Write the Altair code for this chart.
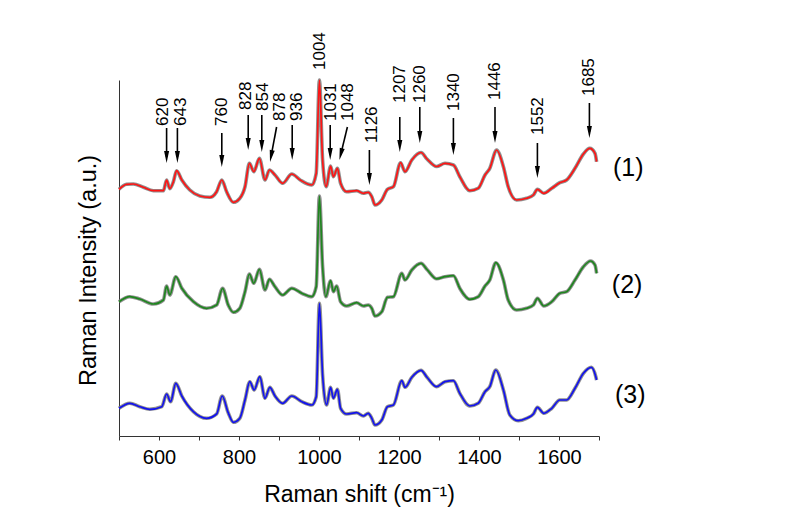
import math
import altair as alt
import pandas as pd

FONT = "Liberation Sans, Arial, Helvetica, sans-serif"

# ---- spectra (Raman shift, intensity in arbitrary units incl. stacking offset) ----
shift_1 = [500, 519, 536, 561, 586, 611, 619, 627, 636, 644, 657, 677, 702, 727, 744, 757, 769, 786, 802, 815,
           826, 837, 851, 865, 876, 890, 909, 932, 953, 982, 993, 1001, 1009, 1018, 1029, 1036, 1046, 1054, 1069,
           1094, 1111, 1123, 1132, 1140, 1157, 1171, 1186, 1204, 1215, 1232, 1255, 1270, 1294, 1315, 1336, 1352,
           1377, 1398, 1415, 1427, 1444, 1461, 1473, 1494, 1519, 1536, 1546, 1562, 1582, 1602, 1619, 1640, 1661,
           1677, 1690, 1694]
intensity_1 = [246.7, 251.7, 252, 248.7, 245.3, 245.3, 256, 247.3, 254.3, 265.3, 256, 246, 240, 238.7, 244.3, 256,
               244.3, 233.7, 237.7, 249.3, 272.7, 264.3, 277.7, 256, 266, 261, 252.7, 262, 256, 251, 262.7, 356, 276,
               249.3, 270, 259.3, 267.7, 252.7, 244.3, 245.3, 242.7, 243.7, 239.3, 231, 236, 246.7, 249.3, 273.3,
               264.3, 276, 283.5, 277, 269.5, 272.7, 271, 259.3, 245.3, 247.7, 261, 267.7, 286, 269.3, 249.3, 236,
               237.7, 241, 246.7, 242.7, 247.7, 253.3, 256, 267.7, 282, 287.7, 282.7, 274.3]

shift_2 = [500, 527, 552, 586, 611, 619, 627, 642, 657, 686, 719, 744, 759, 773, 786, 802, 815, 826, 837, 851, 865,
           876, 890, 909, 932, 957, 982, 993, 1001, 1009, 1017, 1029, 1036, 1044, 1054, 1069, 1094, 1111, 1123, 1132,
           1140, 1157, 1171, 1186, 1207, 1215, 1232, 1255, 1270, 1294, 1315, 1336, 1352, 1377, 1398, 1415, 1427,
           1442, 1461, 1473, 1494, 1519, 1536, 1546, 1562, 1582, 1602, 1619, 1640, 1661, 1679, 1690, 1694]
intensity_2 = [134.3, 139.3, 137, 132, 136, 150, 141, 159.3, 147.7, 134.3, 127.7, 131, 147.7, 131, 123.7, 127.7,
               144.3, 162, 152.7, 166.7, 146, 156.7, 149.3, 141, 147.7, 142.7, 139.3, 149.3, 240, 169.3, 139.3,
               155.3, 144.3, 150, 134.3, 130, 133.3, 130, 131, 127.7, 120, 124.3, 138.7, 139.3, 162.7, 156, 166,
               172.7, 166.5, 157.2, 159.3, 160.3, 147.7, 136.7, 139.3, 150, 156, 173.3, 156, 136, 126, 127.7, 131,
               137.7, 130, 134.3, 142.7, 144.3, 156, 169.3, 175, 171, 162.7]

shift_3 = [500, 527, 552, 577, 607, 619, 629, 642, 657, 686, 719, 744, 758, 773, 786, 802, 815, 827, 838, 852, 865,
           877, 890, 909, 932, 957, 982, 993, 1001, 1009, 1019, 1029, 1036, 1046, 1054, 1069, 1094, 1111, 1123, 1132,
           1140, 1157, 1171, 1186, 1207, 1215, 1232, 1255, 1270, 1294, 1315, 1336, 1352, 1377, 1398, 1415, 1427,
           1442, 1461, 1477, 1498, 1519, 1536, 1546, 1562, 1582, 1602, 1619, 1640, 1661, 1681, 1692, 1694]
intensity_3 = [27.7, 32.7, 29.3, 26.7, 29.3, 42, 34.3, 52.7, 40, 24.3, 17.7, 22, 40, 23.3, 13.7, 17.7, 36, 54.3, 46,
               59.3, 37.7, 48.7, 40, 32.7, 40, 34.3, 31, 39.3, 132.7, 61, 31, 48.7, 37.7, 46.7, 27.7, 22, 23.3, 20,
               22.7, 17.7, 11, 16, 29.3, 31, 55.3, 48.7, 58.7, 65.7, 58.7, 49.3, 54.3, 55.3, 42.7, 30, 32.7, 44.3,
               49.3, 66, 46, 21, 15.3, 17.7, 22, 28.7, 22.7, 27.7, 36, 36, 47.7, 62.7, 68.7, 59.3, 56]

series_names = ["(1)", "(2)", "(3)"]
series_colors = ["#ff1414", "#1f861f", "#1212ee"]

# ---- peak annotations ----
peak_labels = ["620", "643", "760", "828", "854", "878", "936", "1004", "1031", "1048", "1126", "1207", "1260",
               "1340", "1446", "1552", "1685"]
peak_label_x = [609, 655, 757, 817, 860, 902, 944, 1002, 1030, 1072, 1132, 1202, 1252, 1338, 1440, 1548, 1676]
peak_label_y = [310, 310, 310, 326, 325, 315, 315, 366, 315, 315, 293, 333, 333, 325, 336, 301, 340]

arrow_x_top = [619, 646, 757, 823, 857, 894, 933, 1028, 1071, 1126, 1202, 1252, 1336, 1440, 1546, 1676]
arrow_y_top = [308, 308, 303, 321, 321, 309, 311, 311, 309, 286, 319, 329, 318, 329, 293, 333]
arrow_x_tip = [619, 646, 757, 823, 857, 877.5, 933, 1028, 1051, 1126, 1202, 1252, 1336, 1440, 1546, 1676]
arrow_y_tip = [273, 273, 269, 286, 284, 274, 276, 276, 276, 251, 284, 293, 281, 293, 258, 298]

series_label_x = [1735, 1732, 1740]
series_label_y = [268, 151, 41]

x_ticks = list(range(500, 1701, 100))

# ---- tables ----
spectra = pd.concat([
    pd.DataFrame({"x": xs, "y": ys, "series": name})
    for name, xs, ys in zip(series_names, [shift_1, shift_2, shift_3], [intensity_1, intensity_2, intensity_3])
])

PX_PER_X = 480 / 1200.0  # plot px per cm-1 (x), y: 1 unit = 1 px
rows = []
for xt, yt, xb, yb in zip(arrow_x_top, arrow_y_top, arrow_x_tip, arrow_y_tip):
    dx = (xb - xt) * PX_PER_X
    dy = (yt - yb)
    length = math.hypot(dx, dy)
    ux, uy = dx / length, dy / length
    back = 6.0
    rows.append({
        "x": xt, "y": yt, "x_tip": xb, "y_tip": yb,
        "x_end": xb - ux * back / PX_PER_X, "y_end": yb + uy * back,
        "angle": math.degrees(math.atan2(-dx, dy)) % 360,
    })
arrows = pd.DataFrame(rows)

labels_df = pd.DataFrame({"label": peak_labels, "x": peak_label_x, "y": peak_label_y})
series_df = pd.DataFrame({"label": series_names, "x": series_label_x, "y": series_label_y})

X_SCALE = alt.Scale(domain=[500, 1700], nice=False, zero=False)
Y_SCALE = alt.Scale(domain=[0, 356], nice=False, zero=False)

x_axis = alt.Axis(
    values=x_ticks, format="d", labelExpr="datum.value % 200 == 0 ? datum.label : ''",
    labelOverlap=False, labelFlush=False, tickSize=4, tickColor="#333", domainColor="#333",
    labelFontSize=20, labelFont=FONT, labelColor="black", labelPadding=7, grid=False,
    title="Raman shift (cm⁻¹)", titleFontSize=23, titleFont=FONT, titleFontWeight="normal",
    titleColor="black", titlePadding=16,
)
y_axis = alt.Axis(
    labels=False, ticks=False, grid=False, domainColor="#333",
    title="Raman Intensity (a.u.)", titleFontSize=23.5, titleFont=FONT, titleFontWeight="normal",
    titleColor="black", titleX=-19, titleY=190,
)

X = alt.X("x:Q", scale=X_SCALE, axis=x_axis)
Y = alt.Y("y:Q", scale=Y_SCALE, axis=y_axis)

halo = alt.Chart(spectra).mark_line(interpolate="monotone", color="#7c7c7c", strokeWidth=3.6, opacity=0.85).encode(
    x=X, y=Y, detail="series:N",
)
lines = alt.Chart(spectra).mark_line(interpolate="monotone", strokeWidth=1.7).encode(
    x=X, y=Y,
    color=alt.Color("series:N", scale=alt.Scale(domain=series_names, range=series_colors), legend=None),
)
shafts = alt.Chart(arrows).mark_rule(color="black", strokeWidth=1.6).encode(
    x=X, y=Y, x2="x_end:Q", y2="y_end:Q",
)
HEAD = "M0,0 L-0.21,-1 L0.21,-1 Z"
heads = alt.Chart(arrows).mark_point(shape=HEAD, filled=True, size=576, color="black", opacity=1,
                                     strokeWidth=0).encode(
    x=alt.X("x_tip:Q", scale=X_SCALE, axis=x_axis),
    y=alt.Y("y_tip:Q", scale=Y_SCALE, axis=y_axis),
    angle=alt.Angle("angle:Q", scale=None),
)
peak_text = alt.Chart(labels_df).mark_text(angle=270, align="left", baseline="middle", fontSize=17, font=FONT,
                                           color="black").encode(
    x=X, y=Y, text="label:N",
)
series_text = alt.Chart(series_df).mark_text(align="left", baseline="middle", fontSize=25, font=FONT,
                                             color="black").encode(
    x=X, y=Y, text="label:N",
)

chart = alt.layer(halo, lines, shafts, heads, peak_text, series_text).properties(
    width=480, height=356,
    padding={"left": 111, "top": 72, "right": 175, "bottom": 74},
    autosize=alt.AutoSizeParams(type="none"),
).configure_view(stroke=None)

chart.save("out.html", embed_options={"renderer": "svg", "actions": False})
